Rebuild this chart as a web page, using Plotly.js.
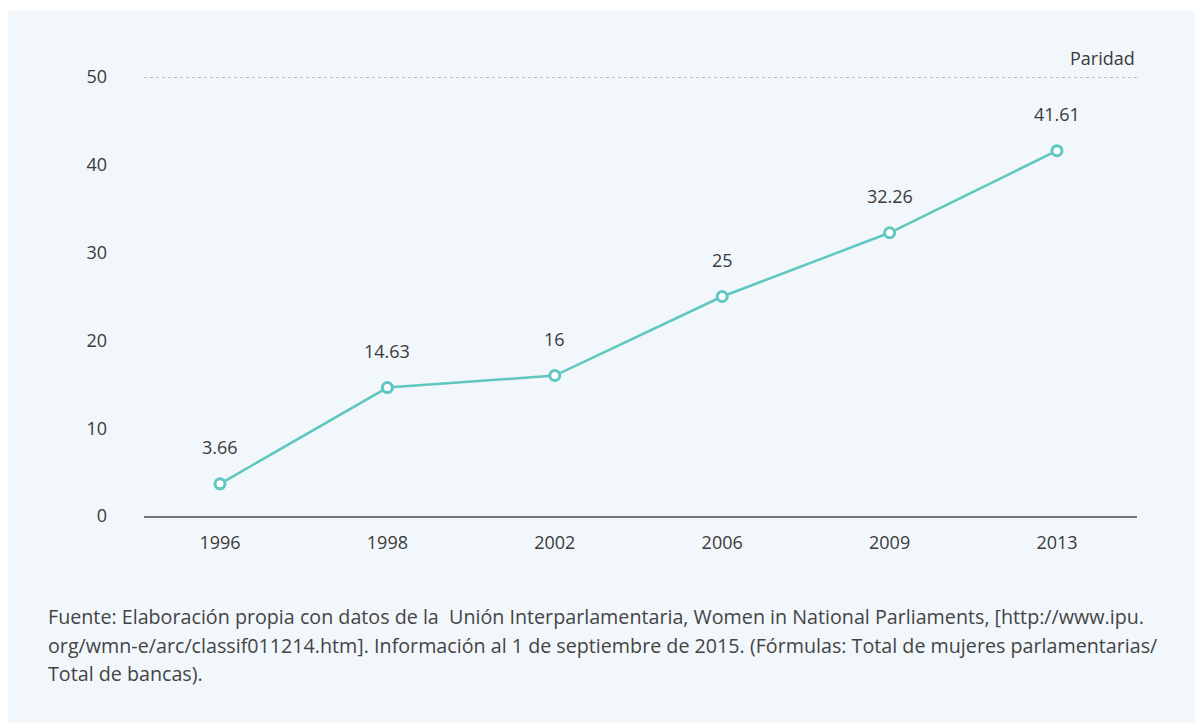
<!DOCTYPE html>
<html>
<head>
<meta charset="utf-8">
<script src="https://cdn.plot.ly/plotly-3.0.1.min.js"></script>
<style>
html,body{margin:0;padding:0;background:#ffffff;}
#chart{position:absolute;left:8px;top:11px;width:1187px;height:712px;}
</style>
</head>
<body>
<div id="chart"></div>
<script>
const years = ["1996", "1998", "2002", "2006", "2009", "2013"];
const values = [3.66, 14.63, 16, 25, 32.26, 41.61];
const labels = ["3.66", "14.63", "16", "25", "32.26", "41.61"];
const yTicks = [0, 10, 20, 30, 40, 50];
const parityLevel = 50;
const parityLabel = "Paridad";
const sourceLines = [
  "Fuente: Elaboración propia con datos de la  Unión Interparlamentaria, Women in National Parliaments, [http://www.ipu.",
  "org/wmn-e/arc/classif011214.htm]. Información al 1 de septiembre de 2015. (Fórmulas: Total de mujeres parlamentarias/",
  "Total de bancas)."
];

const FONT = "Open Sans, sans-serif";
const TEXT = "#3a3a3a";
const TEAL = "#5ec8c0";
const BG = "#f2f7fb";

const trace = {
  x: years,
  y: values,
  type: "scatter",
  mode: "lines+markers",
  line: {color: TEAL, width: 2.5},
  marker: {symbol: "circle", size: 10, color: "#ffffff", line: {color: TEAL, width: 3}},
  hoverinfo: "skip",
  cliponaxis: false
};

// category axis: annotation x given as category index
const annotations = years.map((yr, i) => ({
  x: i, y: values[i], xref: "x", yref: "y",
  text: labels[i], showarrow: false, yshift: 37,
  xanchor: "center", yanchor: "middle",
  font: {family: FONT, size: 18, color: TEXT}
}));

annotations.push({
  x: 1, y: parityLevel, xref: "paper", yref: "y",
  text: parityLabel, showarrow: false, xanchor: "right", yanchor: "middle",
  yshift: 19, font: {family: FONT, size: 18, color: TEXT}
});

const lineY = [-0.230, -0.294, -0.358];
sourceLines.forEach((t, i) => {
  annotations.push({
    x: -0.0987, y: lineY[i], xref: "paper", yref: "paper",
    text: t, showarrow: false, xanchor: "left", yanchor: "middle", align: "left",
    font: {family: FONT, size: 19.7, color: "#444444"}
  });
});

const layout = {
  width: 1187, height: 712,
  paper_bgcolor: BG, plot_bgcolor: BG,
  margin: {l: 136, r: 58, t: 66, b: 207},
  showlegend: false,
  xaxis: {
    type: "category",
    range: [-0.454, 5.478],
    showgrid: false, zeroline: false,
    showline: true, linecolor: "#777777", linewidth: 1.5,
    ticks: "", ticklabelstandoff: 10,
    tickfont: {family: FONT, size: 18, color: TEXT},
    fixedrange: true
  },
  yaxis: {
    range: [0, 50],
    tickvals: yTicks,
    ticktext: yTicks.map(String),
    showgrid: false, zeroline: false, showline: false,
    ticks: "", ticklabelstandoff: 36,
    tickfont: {family: FONT, size: 18, color: TEXT},
    fixedrange: true
  },
  shapes: [{
    type: "line", xref: "paper", yref: "y",
    x0: 0, x1: 1, y0: parityLevel, y1: parityLevel,
    line: {color: "#aaaaaa", width: 1.5, dash: "dot"}
  }],
  annotations: annotations
};

Plotly.newPlot("chart", [trace], layout, {displayModeBar: false, staticPlot: true});
</script>
</body>
</html>
